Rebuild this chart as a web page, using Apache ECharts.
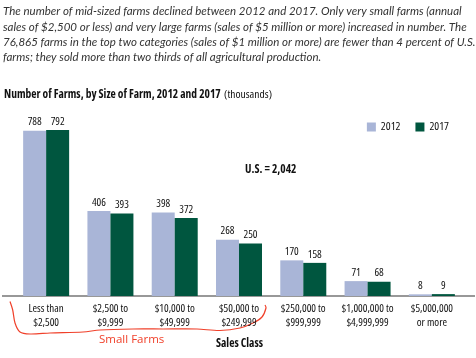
<!DOCTYPE html>
<html><head><meta charset="utf-8">
<script src="https://cdn.jsdelivr.net/npm/echarts@6/dist/echarts.min.js"></script>
<style>html,body{margin:0;padding:0;background:#fff}#c{width:476px;height:358px}</style>
</head><body><div id="c"></div>
<script>
const categories = ["Less than\n$2,500","$2,500 to\n$9,999","$10,000 to\n$49,999","$50,000 to\n$249,999","$250,000 to\n$999,999","$1,000,000 to\n$4,999,999","$5,000,000\nor more"];
const series2012 = [788, 406, 398, 268, 170, 71, 8];
const series2017 = [792, 393, 372, 250, 158, 68, 9];
const seriesNames = ["2012", "2017"];
const colors = ["#a9b5d7", "#00563f"];
const fam = "'Open Sans'";
const labelStyle = {fontFamily: fam, fontStyle: 'condensed', fontSize: 11, color: '#111'};

const chart = echarts.init(document.getElementById('c'));
chart.setOption({
  animation: false,
  grid: {left: 14, right: 12, top: 96, bottom: 62},
  legend: {
    data: seriesNames, right: 22, top: 116, itemWidth: 9, itemHeight: 9, itemGap: 15,
    icon: 'rect', textStyle: Object.assign({}, labelStyle, {fontSize: 11.5})
  },
  xAxis: {
    type: 'category', data: categories,
    axisLine: {show: false}, axisTick: {show: false},
    axisLabel: Object.assign({interval: 0, margin: 6, lineHeight: 14}, labelStyle)
  },
  yAxis: {type: 'value', min: 0, max: 954, show: false, splitLine: {show: false}},
  series: [
    {name: seriesNames[0], type: 'bar', data: series2012, barWidth: 23, barGap: '0%', itemStyle: {color: colors[0]},
     label: Object.assign({show: true, position: 'top', distance: 3}, labelStyle)},
    {name: seriesNames[1], type: 'bar', data: series2017, barWidth: 23, barGap: '0%', itemStyle: {color: colors[1]},
     label: Object.assign({show: true, position: 'top', distance: 3}, labelStyle)}
  ],
  graphic: [
    {type: 'text', left: 3, top: 4, style: {
      text: "The number of mid-sized farms declined between 2012 and 2017. Only very small farms (annual\nsales of $2,500 or less) and very large farms (sales of $5 million or more) increased in number. The\n76,865 farms in the top two categories (sales of $1 million or more) are fewer than 4 percent of U.S.\nfarms; they sold more than two thirds of all agricultural production.",
      font: "italic 11.5px Lato", lineHeight: 15.2, fill: '#333'}},
    {type: 'text', left: 4, top: 89, style: {
      text: "{b|Number of Farms, by Size of Farm, 2012 and 2017} {r|(thousands)}",
      rich: {b: {fontFamily: fam, fontStyle: 'condensed', fontWeight: 'bold', fontSize: 11.5, fill: '#111'},
             r: {fontFamily: fam, fontStyle: 'condensed', fontSize: 11.5, fill: '#111'}}}},
    {type: 'text', left: 245, top: 164, style: {text: "U.S. = 2,042", font: "condensed bold 11.5px " + fam, fill: '#111'}},
    {type: 'text', left: 216, top: 338, style: {text: "Sales Class", font: "condensed bold 11.5px " + fam, fill: '#111'}},
    {type: 'text', left: 99, top: 334, style: {text: "Small Farms", font: "11.5px " + fam, fill: '#f0402a'}},
    {type: 'line', shape: {x1: 2, y1: 296, x2: 475, y2: 296}, style: {stroke: '#333', lineWidth: 1.2}},
    {type: 'polyline', shape: {smooth: 0.3, points: [[10,301.5],[12.7,310],[15,323],[20,332],[30,334],[50,333],[83,332],[100,330],[133,329],[163,329],[197,329],[220,330.5],[240,328],[253,323],[262,317],[266,308],[265,305]]},
     style: {stroke: '#f0402a', lineWidth: 1.2, fill: null}}
  ]
});
</script></body></html>
